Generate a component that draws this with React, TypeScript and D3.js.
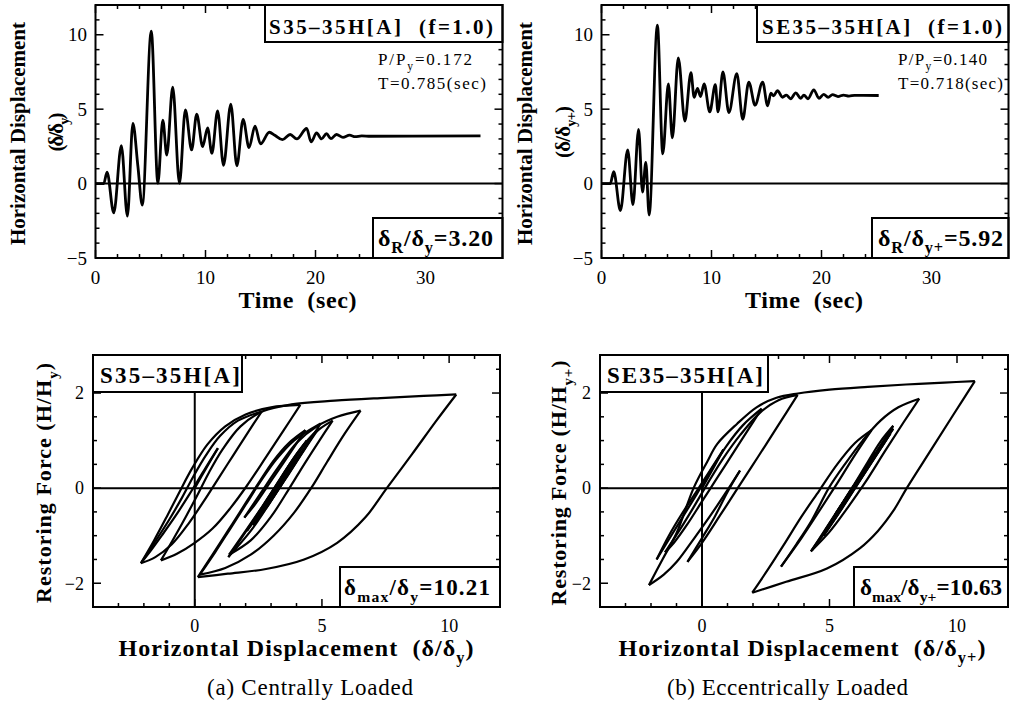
import React from 'react';
import * as d3 from 'd3';

type Pt = [number, number];
type Seg = [string, boolean?];

const FONT = '"Liberation Serif", "Times New Roman", serif';

// time histories, (t [sec], delta/delta_y)
const timeS35: Pt[] = [
  [0, 0], [0.75, 0], [1.05, 0.77], [1.66, -1.97], [2.35, 2.55], [2.9, -2.19], [3.4, 4.04],
  [3.85, 1.2], [4.25, -1.44], [5.07, 10.25], [5.67, 0.02], [6.12, 4.27], [6.48, 1.92],
  [7.02, 6.48], [7.63, 0.02], [8.17, 4.95], [8.74, 2.26], [9.2, 4.66], [9.74, 2.49],
  [10.19, 3.75], [10.58, 2.03], [11.1, 4.88], [11.64, 1.23], [12.3, 5.34], [12.85, 1.19],
  [13.42, 4.32], [13.96, 2.42], [14.5, 3.86], [15.0, 2.67], [15.8, 3.45], [16.3, 3.25],
  [17.0, 2.95], [17.7, 3.3], [18.3, 3.0], [19.2, 3.7], [19.6, 2.8], [20.1, 3.4], [20.55, 3.0],
  [21.0, 3.35], [21.4, 3.02], [21.9, 3.3], [22.5, 3.1], [23.1, 3.25], [23.6, 3.15],
  [24.2, 3.21], [25, 3.18], [35, 3.2],
];

const timeSE35: Pt[] = [
  [0, 0], [0.8, 0], [1.11, 0.8], [1.72, -1.82], [2.38, 2.27], [2.86, -1.41], [3.37, 3.64],
  [3.73, -0.57], [4.03, 1.43], [4.33, -2.11], [5.08, 10.64], [5.57, 2.0], [6.08, 6.7],
  [6.44, 3.07], [6.98, 8.45], [7.58, 4.2], [8.13, 7.45], [8.42, 5.8], [8.73, 6.4], [9.0, 5.85],
  [9.33, 6.7], [9.84, 4.82], [10.35, 6.64], [10.59, 4.82], [11.04, 7.5], [11.58, 4.77],
  [12.3, 7.39], [12.84, 4.32], [13.39, 6.82], [13.96, 5.27], [14.65, 6.82], [15.1, 5.23],
  [15.4, 6.07], [15.65, 5.9], [16.0, 6.25], [16.45, 5.8], [16.8, 5.95], [17.2, 5.7],
  [17.66, 6.1], [18.1, 5.73], [18.4, 5.95], [18.77, 5.7], [19.3, 6.3], [19.77, 5.73],
  [20.2, 6.0], [20.6, 5.8], [21.0, 5.98], [21.5, 5.85], [22.0, 5.95], [22.5, 5.88],
  [23.0, 5.93], [25.2, 5.92],
];

// hysteresis branches, (delta/delta_y, H/H_y), one array per half cycle
const loopS35: Pt[][] = [
  [[0, 0], [0.45, 0.42], [0.91, 0.84]],
  [[0.91, 0.84], [0.35, 0.36], [-0.2, -0.12], [-0.75, -0.58], [-1.3, -1.0], [-1.75, -1.33], [-2.09, -1.56]],
  [[-2.09, -1.56], [-1.55, -1.12], [-1.0, -0.66], [-0.5, -0.2], [-0.05, 0.25], [0.45, 0.7], [1.0, 1.1], [1.7, 1.42], [2.63, 1.61]],
  [[2.63, 1.61], [2.1, 1.18], [1.5, 0.68], [0.9, 0.18], [0.35, -0.28], [-0.25, -0.75], [-0.9, -1.18], [-1.55, -1.45], [-2.12, -1.58]],
  [[-2.12, -1.58], [-1.6, -1.1], [-1.1, -0.6], [-0.6, -0.08], [-0.1, 0.42], [0.5, 0.92], [1.2, 1.3], [2.0, 1.55], [3.0, 1.7], [4.15, 1.75]],
  [[4.15, 1.75], [3.5, 1.22], [2.8, 0.65], [2.05, 0.05], [1.4, -0.42], [0.7, -0.85], [0.0, -1.15], [-0.7, -1.38], [-1.33, -1.52]],
  [[-1.33, -1.52], [-0.85, -1.08], [-0.35, -0.6], [0.1, -0.15], [0.55, 0.32], [1.1, 0.82], [1.8, 1.3], [2.7, 1.62], [3.8, 1.76], [5.5, 1.84], [7.5, 1.9], [9.0, 1.94], [10.28, 1.97]],
  [[10.28, 1.97], [9.5, 1.42], [8.55, 0.72], [7.55, 0], [6.7, -0.62], [5.6, -1.15], [4.3, -1.5], [2.8, -1.7], [1.3, -1.8], [0.12, -1.87]],
  [[0.12, -1.87], [0.7, -1.4], [1.3, -0.9], [1.9, -0.4], [2.5, 0.1], [3.1, 0.58], [3.7, 0.95], [4.35, 1.22]],
  [[4.35, 1.22], [3.7, 0.7], [3.0, 0.15], [2.4, -0.32], [1.95, -0.62]],
  [[1.95, -0.62], [2.6, -0.1], [3.3, 0.45], [4.0, 0.95], [4.8, 1.3], [5.6, 1.5], [6.52, 1.63]],
  [[6.52, 1.63], [5.9, 1.15], [5.2, 0.55], [4.6, 0.02], [3.9, -0.52], [3.1, -1.0], [2.2, -1.4], [1.2, -1.68], [0.2, -1.82]],
  [[0.2, -1.82], [0.8, -1.35], [1.4, -0.85], [2.0, -0.35], [2.6, 0.15], [3.2, 0.6], [3.9, 1.0], [4.95, 1.36]],
  [[4.95, 1.36], [4.4, 0.9], [3.8, 0.4], [3.2, -0.1], [2.7, -0.5], [2.3, -0.78]],
  [[2.3, -0.78], [2.8, -0.38], [3.4, 0.1], [4.0, 0.6], [4.7, 1.15]],
  [[4.7, 1.15], [4.1, 0.65], [3.5, 0.15], [2.95, -0.3], [2.5, -0.62]],
  [[2.5, -0.62], [3.0, -0.22], [3.45, 0.17], [3.8, 0.5]],
  [[3.8, 0.5], [3.3, 0.08], [2.7, -0.42], [2.05, -0.9]],
  [[2.05, -0.9], [2.6, -0.45], [3.2, 0.05], [3.8, 0.55], [4.4, 0.98], [4.88, 1.26]],
  [[4.88, 1.26], [4.3, 0.8], [3.6, 0.22], [2.9, -0.35], [2.2, -0.9], [1.32, -1.45]],
  [[1.32, -1.45], [1.9, -1.0], [2.5, -0.52], [3.1, -0.02], [3.7, 0.48], [4.3, 0.92], [4.9, 1.24], [5.42, 1.42]],
  [[5.42, 1.42], [4.9, 1.0], [4.3, 0.5], [3.7, -0.02], [3.0, -0.6], [2.2, -1.1], [1.35, -1.4]],
  [[1.35, -1.4], [2.0, -0.9], [2.7, -0.35], [3.4, 0.22], [3.95, 0.68], [4.4, 1.0]],
  [[4.4, 1.0], [3.9, 0.58], [3.3, 0.08], [2.85, -0.3], [2.45, -0.62]],
  [[2.45, -0.62], [2.9, -0.25], [3.4, 0.17], [3.9, 0.58]],
  [[3.9, 0.58], [3.4, 0.17], [3.0, -0.17], [2.7, -0.42]],
  [[2.7, -0.42], [3.1, -0.08], [3.45, 0.25]],
  [[3.45, 0.25], [3.15, 0.0], [2.95, -0.17]],
  [[2.95, -0.17], [3.2, 0.04]],
];

const loopSE35: Pt[][] = [
  [[0, 0], [0.42, 0.4], [0.84, 0.81]],
  [[0.84, 0.81], [0.3, 0.36], [-0.25, -0.1], [-0.8, -0.55], [-1.3, -1.0], [-1.78, -1.5]],
  [[-1.78, -1.5], [-1.3, -1.08], [-0.75, -0.6], [-0.2, -0.12], [0.35, 0.38], [0.95, 0.88], [1.6, 1.32], [2.34, 1.67]],
  [[2.34, 1.67], [1.8, 1.22], [1.2, 0.72], [0.6, 0.22], [0.0, -0.28], [-0.6, -0.78], [-1.1, -1.15], [-1.45, -1.35]],
  [[-1.45, -1.35], [-0.9, -0.9], [-0.35, -0.42], [0.2, 0.08], [0.8, 0.6], [1.5, 1.12], [2.3, 1.6], [3.0, 1.85], [3.75, 1.96]],
  [[3.75, 1.96], [3.0, 1.33], [2.2, 0.66], [1.4, 0.0], [0.7, -0.58], [0.0, -1.15], [-0.57, -1.55]],
  [[-0.57, -1.55], [0.0, -1.05], [0.5, -0.6], [1.0, -0.08], [1.49, 0.37]],
  [[1.49, 0.37], [0.9, -0.12], [0.3, -0.6], [-0.3, -1.05], [-0.99, -1.55], [-1.5, -1.82], [-2.08, -2.04]],
  [[-2.08, -2.04], [-1.55, -1.5], [-1.0, -0.95], [-0.33, 0.0], [0.2, 0.55], [0.6, 0.93], [1.37, 1.35], [2.14, 1.7], [2.92, 1.9], [3.76, 1.99], [5.0, 2.07], [6.5, 2.13], [8.0, 2.18], [9.5, 2.22], [10.7, 2.25]],
  [[10.7, 2.25], [9.9, 1.58], [9.0, 0.82], [8.03, 0.0], [7.5, -0.48], [6.9, -0.9], [6.2, -1.26], [4.9, -1.69], [3.3, -1.97], [1.97, -2.2]],
  [[1.97, -2.2], [2.6, -1.7], [3.2, -1.2], [3.9, -0.6], [4.6, -0.05], [5.3, 0.5], [6.0, 0.95], [6.65, 1.22]],
  [[6.65, 1.22], [6.0, 0.7], [5.3, 0.1], [4.6, -0.48], [3.9, -1.05], [3.1, -1.65]],
  [[3.1, -1.65], [3.7, -1.18], [4.3, -0.68], [4.97, 0.0], [5.6, 0.5], [6.3, 1.0], [7.0, 1.42], [7.7, 1.7], [8.52, 1.88]],
  [[8.52, 1.88], [7.9, 1.38], [7.2, 0.8], [6.4, 0.12], [5.7, -0.42], [5.0, -0.92], [4.27, -1.33]],
  [[4.27, -1.33], [4.8, -0.9], [5.4, -0.4], [5.9, 0.02], [6.5, 0.55], [7.0, 0.98], [7.5, 1.31]],
  [[7.5, 1.31], [7.0, 0.9], [6.5, 0.48], [6.05, 0.1], [5.8, -0.1]],
  [[5.8, -0.1], [6.1, 0.15], [6.4, 0.4]],
  [[6.4, 0.4], [6.0, 0.07], [5.75, -0.14]],
  [[5.75, -0.14], [6.2, 0.24], [6.7, 0.66]],
  [[6.7, 0.66], [6.0, 0.08], [5.4, -0.42], [4.82, -0.9]],
  [[4.82, -0.9], [5.4, -0.42], [6.0, 0.08], [6.64, 0.6]],
  [[6.64, 0.6], [6.0, 0.07], [5.4, -0.43], [4.82, -0.92]],
  [[4.82, -0.92], [5.5, -0.35], [6.2, 0.22], [6.9, 0.8], [7.5, 1.25]],
  [[7.5, 1.25], [6.9, 0.75], [6.2, 0.17], [5.5, -0.42], [4.77, -1.0]],
  [[4.77, -1.0], [5.5, -0.4], [6.2, 0.18], [6.9, 0.75], [7.39, 1.15]],
  [[7.39, 1.15], [6.7, 0.58], [6.0, 0.0], [5.2, -0.65], [4.32, -1.3]],
  [[4.32, -1.3], [5.0, -0.75], [5.7, -0.17], [6.3, 0.33], [6.82, 0.75]],
  [[6.82, 0.75], [6.3, 0.32], [5.75, -0.13], [5.27, -0.52]],
  [[5.27, -0.52], [5.8, -0.08], [6.3, 0.33], [6.82, 0.75]],
  [[6.82, 0.75], [6.3, 0.32], [5.75, -0.13], [5.23, -0.55]],
  [[5.23, -0.55], [5.7, -0.16], [6.07, 0.14]],
  [[6.07, 0.14], [5.92, 0.0]],
];

const timeTickLabels = [0, 10, 20, 30];
const dispTickLabels = [10, 5, 0, -5];
const loopXTickLabels = [0, 5, 10];
const loopYTickLabels = [2, 0, -2];

function Rich({ segs, size, x = 0, y = 0, anchor = 'start', weight = 'bold', len, transform }: any) {
  const off = size * 0.3;
  let down = false;
  return (
    <text
      x={x}
      y={y}
      fontSize={size}
      fontWeight={weight}
      fontFamily={FONT}
      textAnchor={anchor}
      transform={transform}
      textLength={len}
      lengthAdjust={len ? 'spacing' : undefined}
      style={{ whiteSpace: 'pre' }}
      fill="#000"
    >
      {segs.map(([s, sub]: Seg, i: number) => {
        let dy = 0;
        if (sub && !down) {
          dy = off;
          down = true;
        } else if (!sub && down) {
          dy = -off;
          down = false;
        }
        return (
          <tspan key={i} dy={dy || undefined} fontSize={sub ? size * 0.68 : undefined}>
            {s}
          </tspan>
        );
      })}
    </text>
  );
}

function FrameTicks({ x, y, xs, ys, xMajor, yMajor }: any) {
  const [x0, x1] = x.range();
  const [y1, y0] = y.range();
  const out: any[] = [];
  xs.forEach((v: number, i: number) => {
    const l = xMajor(v) ? 8 : 4;
    const px = x(v);
    out.push(<line key={'xb' + i} x1={px} x2={px} y1={y1} y2={y1 - l} />);
    out.push(<line key={'xt' + i} x1={px} x2={px} y1={y0} y2={y0 + l} />);
  });
  ys.forEach((v: number, i: number) => {
    const l = yMajor(v) ? 8 : 4;
    const py = y(v);
    out.push(<line key={'yl' + i} x1={x0} x2={x0 + l} y1={py} y2={py} />);
    out.push(<line key={'yr' + i} x1={x1} x2={x1 - l} y1={py} y2={py} />);
  });
  return <g stroke="#000" strokeWidth={1.5}>{out}</g>;
}

function TimePanel({ x0, x1, data, title, titleBox, titleX, titleLen, pp, tt, ppX, ppLen, ttLen, resid, residBox, residX, residLen, yLab2, yLabX, yLab2X, yLab2Len, timeX }: any) {
  const x = d3.scaleLinear().domain([0, 37]).range([x0, x1]);
  const y = d3.scaleLinear().domain([-5, 12]).range([258, 5]);
  const line = d3.line<Pt>().x(d => x(d[0])).y(d => y(d[1])).curve(d3.curveMonotoneX);
  return (
    <g>
      <FrameTicks
        x={x}
        y={y}
        xs={d3.range(0, 37, 2)}
        ys={d3.range(-5, 12.001, 1)}
        xMajor={(v: number) => v % 10 === 0}
        yMajor={(v: number) => v % 5 === 0}
      />
      <line x1={x0} x2={x1} y1={y(0)} y2={y(0)} stroke="#000" strokeWidth={2} />
      <path d={line(data) || ''} fill="none" stroke="#000" strokeWidth={2.8} strokeLinejoin="round" />
      <rect x={titleBox} y={5} width={x1 - titleBox} height={37} fill="#fff" stroke="#000" strokeWidth={2} />
      <Rich segs={[[title]]} size={21} x={titleX} y={33.5} len={titleLen} />
      <Rich segs={[['P/P'], ['y', true], ['=' + pp]]} size={17} weight="normal" x={ppX} y={65} len={ppLen} />
      <Rich segs={[['T=' + tt + '(sec)']]} size={17} weight="normal" x={ppX} y={89} len={ttLen} />
      <rect x={residBox} y={218} width={x1 - residBox} height={40} fill="#fff" stroke="#000" strokeWidth={2} />
      <Rich segs={resid} size={24} x={residX} y={246} len={residLen} />
      <rect x={x0} y={5} width={x1 - x0} height={253} fill="none" stroke="#000" strokeWidth={2} />
      {dispTickLabels.map(v => (
        <text key={v} x={x0 - 8.5} y={y(v)} dy="0.35em" textAnchor="end" fontFamily={FONT} fontSize={19}>
          {v < 0 ? '\u2212' + Math.abs(v) : v}
        </text>
      ))}
      {timeTickLabels.map(v => (
        <text key={v} x={x(v)} y={284} textAnchor="middle" fontFamily={FONT} fontSize={19}>
          {v}
        </text>
      ))}
      <Rich segs={[['Time  (sec)']]} size={24} x={timeX} y={308} anchor="middle" len={118} />
      <Rich segs={[['Horizontal Displacement']]} size={21} anchor="middle" len={223} transform={`translate(${yLabX},133.5) rotate(-90)`} />
      <Rich segs={yLab2} size={21} anchor="middle" len={yLab2Len} transform={`translate(${yLab2X},132) rotate(-90)`} />
    </g>
  );
}

function LoopPanel({ x0, x1, data, label, labelBox, labelX, labelLen, maxSegs, maxBox, maxX, maxLen, yLab, yLabX, yLabLen, xLab, xLabX, xLabLen, caption, captionX, captionLen }: any) {
  const x = d3.scaleLinear().domain([-4, 12]).range([x0, x1]);
  const y = d3.scaleLinear().domain([-2.5, 2.8]).range([607, 355]);
  const line = d3.line<Pt>().x(d => x(d[0])).y(d => y(d[1])).curve(d3.curveCatmullRom.alpha(0.5));
  return (
    <g>
      <FrameTicks
        x={x}
        y={y}
        xs={d3.range(-4, 12.001, 1)}
        ys={d3.range(-2.5, 2.8, 0.5)}
        xMajor={(v: number) => v % 5 === 0}
        yMajor={(v: number) => Math.abs(v % 2) < 1e-9}
      />
      <line x1={x0} x2={x1} y1={y(0)} y2={y(0)} stroke="#000" strokeWidth={2} />
      <line x1={x(0)} x2={x(0)} y1={355} y2={607} stroke="#000" strokeWidth={2} />
      <g fill="none" stroke="#000" strokeWidth={2.2} strokeLinejoin="round">
        {data.map((b: Pt[], i: number) => (
          <path key={i} d={line(b) || ''} />
        ))}
      </g>
      <rect x={x0} y={355} width={labelBox - x0} height={37} fill="#fff" stroke="#000" strokeWidth={2} />
      <Rich segs={[[label]]} size={23} x={labelX} y={383} len={labelLen} />
      <rect x={maxBox} y={567} width={x1 - maxBox} height={40} fill="#fff" stroke="#000" strokeWidth={2} />
      <Rich segs={maxSegs} size={23} x={maxX} y={595} len={maxLen} />
      <rect x={x0} y={355} width={x1 - x0} height={252} fill="none" stroke="#000" strokeWidth={2} />
      {loopYTickLabels.map(v => (
        <text key={v} x={x0 - 9} y={y(v)} dy="0.35em" textAnchor="end" fontFamily={FONT} fontSize={18}>
          {v < 0 ? '\u2212' + Math.abs(v) : v}
        </text>
      ))}
      {loopXTickLabels.map(v => (
        <text key={v} x={x(v)} y={632} textAnchor="middle" fontFamily={FONT} fontSize={18}>
          {v}
        </text>
      ))}
      <Rich segs={yLab} size={22} anchor="middle" len={yLabLen} transform={`translate(${yLabX},483) rotate(-90)`} />
      <Rich segs={xLab} size={24} x={xLabX} y={656} anchor="middle" len={xLabLen} />
      <Rich segs={[[caption]]} size={23} weight="normal" x={captionX} y={695} anchor="middle" len={captionLen} />
    </g>
  );
}

export default function App() {
  return (
    <div style={{ position: 'absolute', left: 0, top: 0, background: '#fff' }}>
      <svg width={1014} height={705} viewBox="0 0 1014 705" style={{ display: 'block' }}>
        <rect width={1014} height={705} fill="#fff" />
        <TimePanel
          x0={95.5}
          x1={502.5}
          data={timeS35}
          title={'S35\u201335H[A]  (f=1.0)'}
          titleBox={265}
          titleX={269}
          titleLen={224}
          pp="0.172"
          tt="0.785"
          ppX={378}
          ppLen={94}
          ttLen={108}
          resid={[['\u03b4'], ['R', true], ['/\u03b4'], ['y', true], ['=3.20']]}
          residBox={373}
          residX={378}
          residLen={115}
          yLab2={[['(\u03b4/\u03b4'], ['y', true], [')']]}
          yLabX={25}
          yLab2X={63}
          yLab2Len={39}
          timeX={297.5}
        />
        <TimePanel
          x0={601.5}
          x1={1008.5}
          data={timeSE35}
          title={'SE35\u201335H[A]  (f=1.0)'}
          titleBox={757}
          titleX={762}
          titleLen={240}
          pp="0.140"
          tt="0.718"
          ppX={898}
          ppLen={89}
          ttLen={105}
          resid={[['\u03b4'], ['R', true], ['/\u03b4'], ['y+', true], ['=5.92']]}
          residBox={872}
          residX={878}
          residLen={125}
          yLab2={[['(\u03b4/\u03b4'], ['y+', true], [')']]}
          yLabX={532}
          yLab2X={570}
          yLab2Len={52}
          timeX={804}
        />
        <LoopPanel
          x0={93}
          x1={500}
          data={loopS35}
          label={'S35\u201335H[A]'}
          labelBox={242}
          labelX={100}
          labelLen={140}
          maxSegs={[['\u03b4'], ['max', true], ['/\u03b4'], ['y', true], ['=10.21']]}
          maxBox={340}
          maxX={344}
          maxLen={146}
          yLab={[['Restoring Force (H/H'], ['y', true], [')']]}
          yLabX={51}
          yLabLen={240}
          xLab={[['Horizontal Displacement  (\u03b4/\u03b4'], ['y', true], [')']]}
          xLabX={296}
          xLabLen={355}
          caption="(a) Centrally Loaded"
          captionX={310}
          captionLen={206}
        />
        <LoopPanel
          x0={600}
          x1={1008}
          data={loopSE35}
          label={'SE35\u201335H[A]'}
          labelBox={768}
          labelX={607}
          labelLen={156}
          maxSegs={[['\u03b4'], ['max', true], ['/\u03b4'], ['y+', true], ['=10.63']]}
          maxBox={854}
          maxX={860}
          maxLen={142}
          yLab={[['Restoring Force (H/H'], ['y+', true], [')']]}
          yLabX={566}
          yLabLen={245}
          xLab={[['Horizontal Displacement  (\u03b4/\u03b4'], ['y+', true], [')']]}
          xLabX={802}
          xLabLen={367}
          caption="(b) Eccentrically Loaded"
          captionX={787.5}
          captionLen={241}
        />
      </svg>
    </div>
  );
}
